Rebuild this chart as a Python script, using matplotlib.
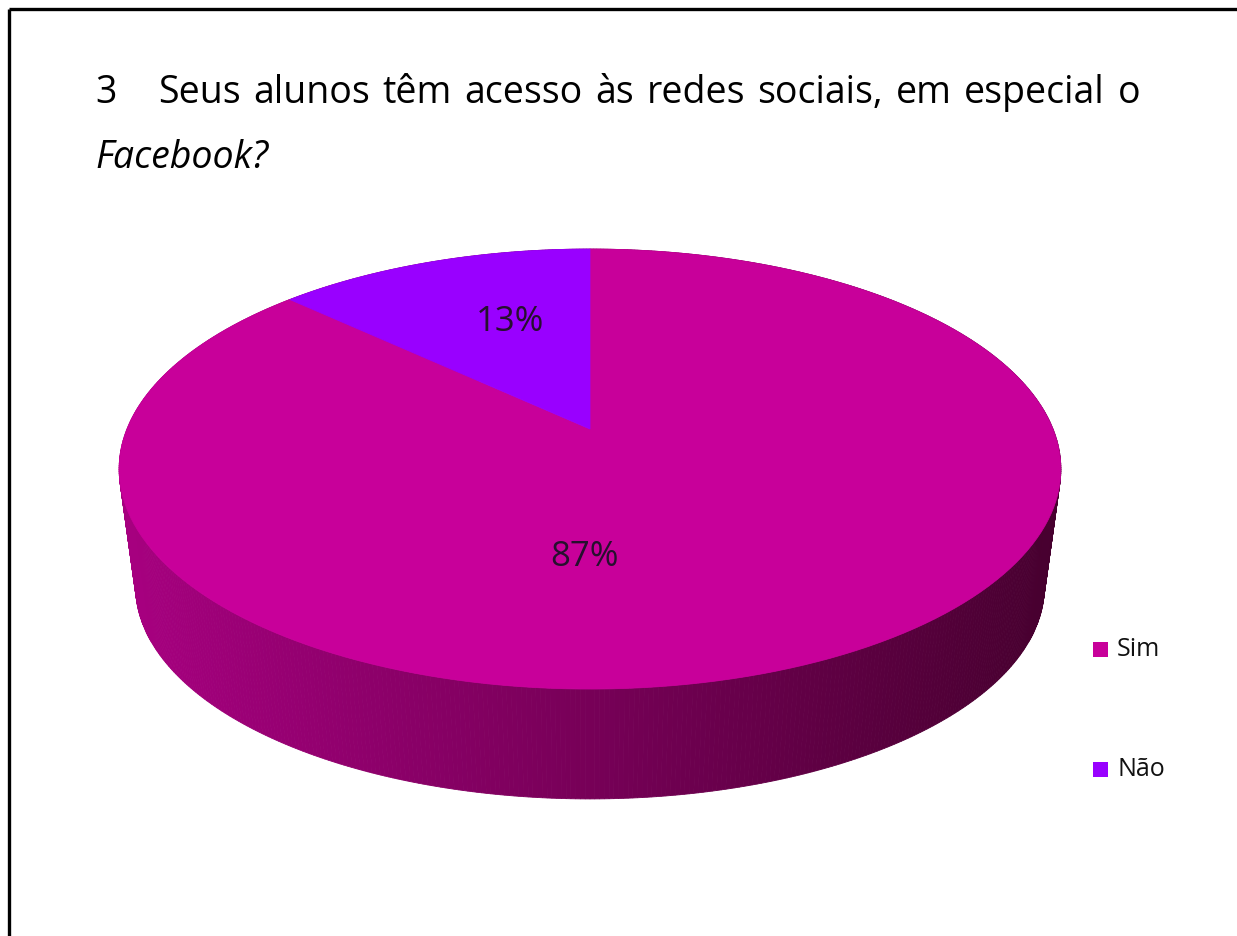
import numpy as np
import matplotlib
matplotlib.use("Agg")
import matplotlib.pyplot as plt
from matplotlib.patches import Polygon, Rectangle
from matplotlib.colors import to_rgb

# ---- data ----
categories = ["Sim", "Não"]
values = [87, 13]
top_colors = ["#C8009A", "#9900FF"]
title_number = "3"
title_line1 = "Seus alunos têm acesso às redes sociais, em especial o"
title_line2 = "Facebook?"

FONT = "Open Sans"

W, H = 1237, 937
fig = plt.figure(figsize=(W / 100, H / 100), dpi=100)
ax = fig.add_axes([0, 0, 1, 1])
ax.set_xlim(0, W)
ax.set_ylim(H, 0)
ax.axis("off")

# border (top and left visible)
ax.plot([9, 9], [10, H + 5], color="black", lw=2.4, solid_capstyle="butt")
ax.plot([9, W + 5], [10, 10], color="black", lw=2.4, solid_capstyle="butt")

# ---- 3D pie projection ----
CX, CY = 590, 430
A, B, P = 463, 212.7, 0.182
S_BOT, CY_BOT = 0.965, 549


def proj(theta, r=1.0, level=0):
    u = r * np.sin(theta)
    w = r * np.cos(theta)
    den = 1 + P * w
    if level == 0:
        return CX + A * u / den, CY - B * w / den
    return CX + S_BOT * A * u / den, CY_BOT - S_BOT * B * w / den


total = float(sum(values))
bounds = np.concatenate([[0], np.cumsum(values) / total * 2 * np.pi])

# side quads (drawn far to near), gradient by x
c_left = np.array(to_rgb("#A6007F"))
c_right = np.array(to_rgb("#47002F"))
quads = []
n = 720
ths = np.linspace(0, 2 * np.pi, n + 1)
for i in range(n):
    t0, t1 = ths[i], ths[i + 1]
    xa, ya = proj(t0, 1, 0)
    xb, yb = proj(t1, 1, 0)
    xc, yc = proj(t1, 1, 1)
    xd, yd = proj(t0, 1, 1)
    depth = np.cos((t0 + t1) / 2)
    xm = (xa + xb) / 2
    f = np.clip((xm - 130) / (1060 - 130), 0, 1)
    col = c_left * (1 - f) + c_right * f
    quads.append((depth, [(xa, ya), (xb, yb), (xc, yc), (xd, yd)], col))
quads.sort(key=lambda q: -q[0])
for _, pts, col in quads:
    ax.add_patch(Polygon(pts, closed=True, facecolor=col, edgecolor=col, lw=0.6, zorder=2))

# top face slices
for i, (cat, col) in enumerate(zip(categories, top_colors)):
    th = np.linspace(bounds[i], bounds[i + 1], 200)
    pts = [(CX, CY)] + [proj(t, 1, 0) for t in th]
    ax.add_patch(Polygon(pts, closed=True, facecolor=col, edgecolor=col, lw=0.6, zorder=3))

# labels
label_pos = [(585, 557), (510, 322)]
for v, (lx, ly) in zip(values, label_pos):
    ax.text(lx, ly, f"{v}%", fontsize=25, family=FONT, color="#26102E",
            ha="center", va="center", zorder=5)

# legend
leg_y = [650, 770]
for cat, col, ly in zip(categories, top_colors, leg_y):
    ax.add_patch(Rectangle((1093, ly - 7), 15, 15, facecolor=col, edgecolor="none", zorder=5))
    ax.text(1117, ly, cat, fontsize=18, family=FONT, color="#111111",
            ha="left", va="center", zorder=5)

# title: number, then justified line 1
ty = 93
ax.text(95, ty, title_number, fontsize=27, family=FONT, color="black", ha="left", va="center")
fig.canvas.draw()
renderer = fig.canvas.get_renderer()
words = title_line1.split(" ")
x0, x1 = 158, 1140
tx = []
widths = []
for wd in words:
    t = ax.text(0, ty, wd, fontsize=27, family=FONT, color="black", ha="left", va="center")
    bb = t.get_window_extent(renderer=renderer)
    tx.append(t)
    widths.append(bb.width)
gap = (x1 - x0 - sum(widths)) / (len(words) - 1)
cur = x0
for t, wdt in zip(tx, widths):
    t.set_x(cur)
    cur += wdt + gap

ax.text(95, 158, title_line2, fontsize=27, family=FONT, style="italic",
        color="black", ha="left", va="center")

fig.savefig("out.png", dpi=100)
